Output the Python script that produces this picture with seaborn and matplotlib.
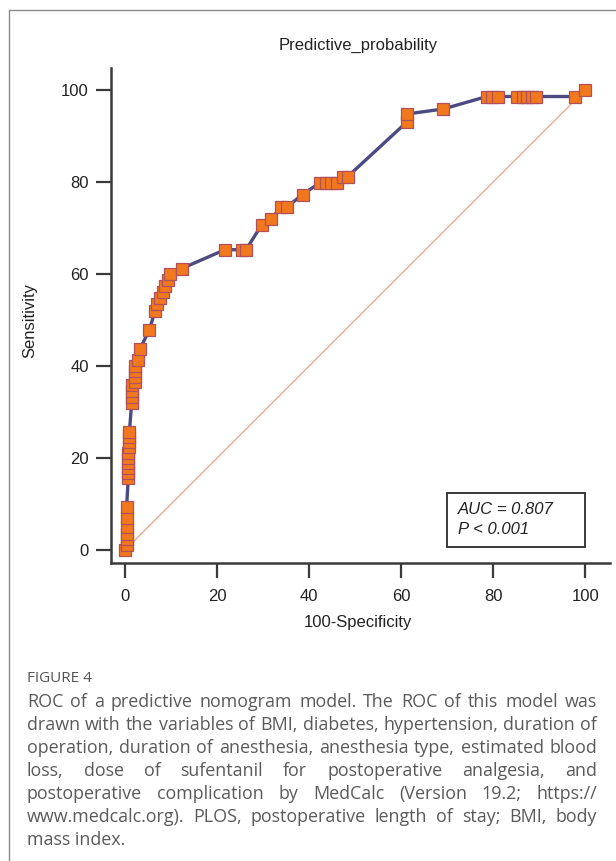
import matplotlib
matplotlib.use("Agg")
import matplotlib.pyplot as plt
from matplotlib.font_manager import FontProperties
from matplotlib.patches import Rectangle
from matplotlib.lines import Line2D
import seaborn as sns
import pandas as pd

# ---------------- data ----------------
fpr = [0, 0.35, 0.35, 0.35, 0.35, 0.35, 0.35,
       0.7, 0.7, 0.7, 0.7, 0.7, 0.7,
       0.95, 0.95, 0.95, 0.95,
       1.45, 1.45, 1.45, 1.45,
       2.2, 2.2, 2.2, 2.2, 2.9, 3.3, 5.3, 6.5, 6.9, 7.6, 8.3, 8.7, 9.4, 9.8, 12.3,
       21.7, 25.4, 26.3, 29.7, 31.7, 34.0, 35.2, 38.6,
       42.4, 43.6, 44.8, 46.0, 47.3, 48.4,
       61.3, 61.3, 69.2, 78.6, 79.7, 81.0, 85.1, 86.4, 87.4, 88.4, 89.4, 97.8, 100]
tpr = [0, 1.2, 2.4, 3.6, 5.0, 7.0, 9.3,
       15.6, 16.7, 17.8, 18.9, 20.0, 21.2,
       22.4, 23.4, 24.5, 25.6,
       32.0, 33.3, 34.6, 35.8,
       36.6, 37.7, 38.9, 40.1, 41.3, 43.8, 47.9, 51.9, 53.6, 54.7, 56.0, 57.4, 58.7, 60.0, 61.2,
       65.3, 65.3, 65.3, 70.7, 72.0, 74.6, 74.6, 77.3,
       79.9, 79.9, 79.9, 79.9, 81.2, 81.2,
       93.1, 94.8, 95.9, 98.6, 98.6, 98.6, 98.6, 98.6, 98.6, 98.6, 98.6, 98.6, 100]
diag = [0, 100]
ticks = [0, 20, 40, 60, 80, 100]
title = "Predictive_probability"
xlabel = "100-Specificity"
ylabel = "Sensitivity"
stats = ["AUC = 0.807", "P < 0.001"]
fig_label = "FIGURE 4"
caption = [
    "ROC of a predictive nomogram model. The ROC of this model was",
    "drawn with the variables of BMI, diabetes, hypertension, duration of",
    "operation, duration of anesthesia, anesthesia type, estimated blood",
    "loss, dose of sufentanil for postoperative analgesia, and",
    "postoperative complication by MedCalc (Version 19.2; https://",
    "www.medcalc.org). PLOS, postoperative length of stay; BMI, body",
    "mass index.",
]

# ---------------- style ----------------
sns.set_theme(style="white")
plt.rcParams["font.family"] = ["Liberation Sans", "DejaVu Sans"]

W, H = 616, 861
fig = plt.figure(figsize=(W / 100, H / 100), dpi=100)
fig.patch.set_facecolor("white")

def fx(px):
    return px / W

def fy(py):
    return 1 - py / H

ax = fig.add_axes([fx(110.5), fy(563), fx(610) - fx(110.5), fy(68) - fy(563)])
ax.set_facecolor("white")

df = pd.DataFrame({"fpr": fpr, "tpr": tpr})
ax.plot(diag, diag, color="#eaa488", lw=0.9, zorder=1)
sns.lineplot(data=df, x="fpr", y="tpr", sort=False, estimator=None, ax=ax,
             color="#4b4a82", lw=2.4, marker="s", markersize=9,
             markerfacecolor="#f2781e", markeredgecolor="#b0505a",
             markeredgewidth=0.9, zorder=3)

ax.set_xlim(-3.15, 105.4)
ax.set_ylim(-2.8, 104.8)
ax.set_xticks(ticks)
ax.set_yticks(ticks)
ax.set_xticklabels([str(t) for t in ticks])
ax.set_yticklabels([str(t) for t in ticks])
for s in ["top", "right"]:
    ax.spines[s].set_visible(False)
for s in ["left", "bottom"]:
    ax.spines[s].set_color("#3a3a3a")
    ax.spines[s].set_linewidth(1.8)
ax.tick_params(axis="both", which="major", direction="out", length=10.5,
               width=1.6, color="#3a3a3a", labelsize=12, labelcolor="#222222",
               bottom=True, left=True)
ax.tick_params(axis="x", pad=8)
ax.tick_params(axis="y", pad=5)
ax.set_xlabel("")
ax.set_ylabel("")
ax.grid(False)

# labels
fig.text(fx(358), fy(50), title, ha="center", va="baseline", fontsize=12, color="#222222")
fig.text(fx(358), fy(623), xlabel, ha="center", va="center", fontsize=12, color="#222222")
fig.text(fx(30), fy(320), ylabel, ha="center", va="center", rotation=90, fontsize=12, color="#222222")

# stats box
fig.add_artist(Rectangle((fx(447), fy(547)), fx(585) - fx(447), fy(493) - fy(547),
                         transform=fig.transFigure, fill=False, edgecolor="#3a3a3a", lw=1.4))
fig.text(fx(458), fy(509), stats[0], ha="left", va="center", fontsize=12,
         style="italic", color="#222222")
fig.text(fx(458), fy(530), stats[1], ha="left", va="center", fontsize=12,
         style="italic", color="#222222")

# figure frame (left + top)
fig.add_artist(Line2D([fx(9), fx(9)], [0, fy(10)], transform=fig.transFigure,
                      color="#8a8a8a", lw=1.0))
fig.add_artist(Line2D([fx(9), 1], [fy(10), fy(10)], transform=fig.transFigure,
                      color="#8a8a8a", lw=1.0))

# caption
cap_color = "#5a5a5a"
fig.text(fx(27), fy(682), fig_label, ha="left", va="baseline", fontsize=11,
         color="#555555", family=["Open Sans", "DejaVu Sans"], weight="medium")

fig.canvas.draw()
r = fig.canvas.get_renderer()

def width_px(s, fp):
    t = fig.text(0, 0, s, fontproperties=fp)
    w = t.get_window_extent(r).width
    t.remove()
    return w

left_px, right_px = 27, 597
fp10 = FontProperties(family=["Open Sans", "DejaVu Sans"], size=10)
maxw = max(width_px(l, fp10) for l in caption[:-1])
size = 10 * (right_px - left_px) / maxw * 0.995
fp = FontProperties(family=["Open Sans", "DejaVu Sans"], size=size)

for i, line in enumerate(caption):
    base = 707 + 23 * i
    if i == len(caption) - 1:
        fig.text(fx(left_px), fy(base), line, fontproperties=fp, ha="left",
                 va="baseline", color=cap_color)
        continue
    words = line.split(" ")
    widths = [width_px(wd, fp) for wd in words]
    gap = (right_px - left_px - sum(widths)) / (len(words) - 1)
    x = left_px
    for wd, w in zip(words, widths):
        fig.text(fx(x), fy(base), wd, fontproperties=fp, ha="left",
                 va="baseline", color=cap_color)
        x += w + gap

fig.savefig("out.png", dpi=100, facecolor="white")
